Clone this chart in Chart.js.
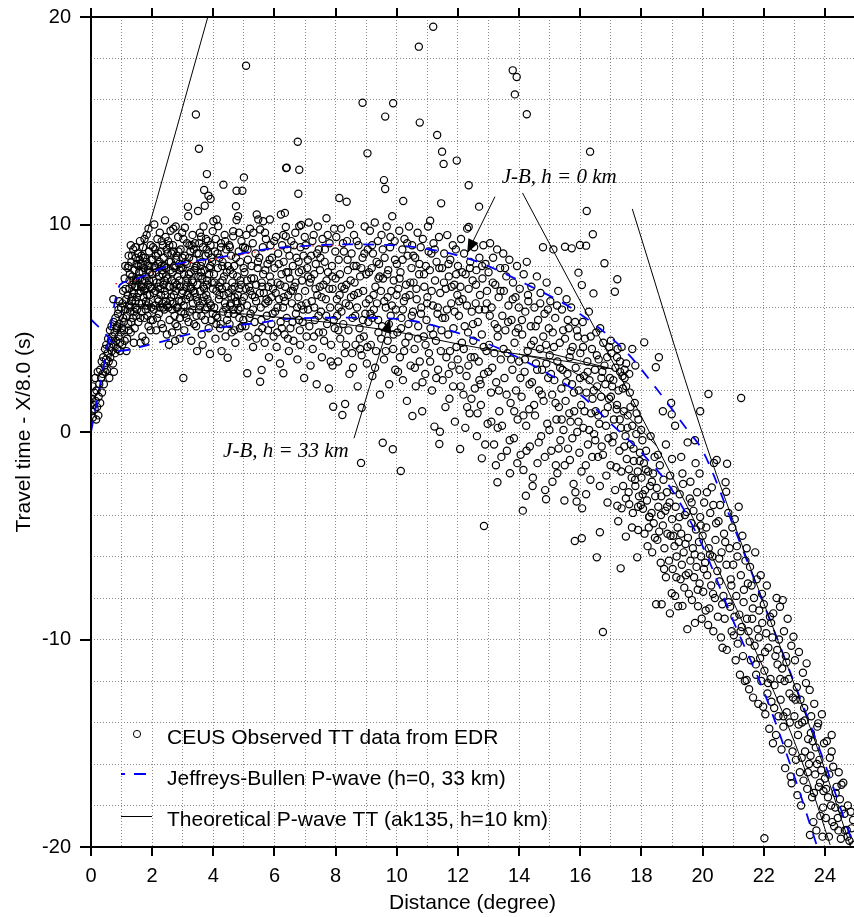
<!DOCTYPE html>
<html>
<head>
<meta charset="utf-8">
<script src="https://cdn.jsdelivr.net/npm/chart.js@4/dist/chart.umd.min.js"></script>
<style>
html,body{margin:0;padding:0;background:#fff;}
#wrap{width:854px;height:917px;}
</style>
</head>
<body>
<div id="wrap"><canvas id="c" width="854" height="917"></canvas></div>
<script>
// ---------------- data ----------------
const xTickLabels = [0,2,4,6,8,10,12,14,16,18,20,22,24];
const yTickLabels = [-20,-10,0,10,20];

// Observed travel-time residuals: [distance (deg), T - X/8.0 (s)]
const obsNear = [
[0.02,1.0],[0.03,1.6],[0.05,2.2],[0.06,0.7],[0.08,1.3],[0.1,1.9],[0.12,1.1],[0.14,2.6],[0.15,1.5],[0.17,0.6],[0.18,2.0],[0.2,1.2],[0.22,2.9],[0.24,0.8],[0.25,1.7],[0.27,2.3],[0.3,3.0],[0.3,1.4],[0.33,2.6],[0.35,3.4],[0.36,1.9],[0.38,2.8],[0.4,3.6],[0.42,2.3],[0.44,3.2],[0.46,4.0],[0.47,2.9],[0.49,3.5],
[0.5,4.2],[0.52,3.0],[0.54,3.8],[0.56,4.5],[0.58,3.4],[0.6,4.1],[0.62,4.9],[0.63,3.6],[0.65,4.4],[0.67,5.1],[0.68,3.9],[0.7,4.6],[0.72,3.3],[0.74,5.3],[0.75,4.2],[0.77,4.8],[0.79,3.8],[0.8,5.5],[0.82,4.4],[0.84,5.0],[0.86,4.0],[0.88,5.7],[0.9,4.6],[0.92,6.3],[0.93,5.2],[0.95,3.9],[0.97,4.8],[0.98,6.0],[0.6,2.6],[0.75,2.9],[0.73,6.4],
[1.02,4.2],[1.05,5.5],[1.05,6.8],[1.08,4.9],[1.1,7.4],[1.12,5.9],[1.15,6.4],[1.18,4.5],[1.2,7.9],[1.23,8.5],[1.22,5.2],[1.25,6.9],[1.27,7.6],[1.28,5.8],[1.3,4.8],[1.32,8.2],[1.33,6.3],[1.35,7.1],[1.37,5.5],[1.38,8.8],[1.4,6.7],[1.42,7.8],[1.43,5.0],[1.45,6.0],[1.47,8.4],[1.48,7.3],[1.5,6.5],[1.12,8.0],[1.3,9.0],[1.4,4.3],[1.16,3.9],[1.48,5.6],[1.25,6.1],[1.35,7.5],[1.45,8.9],[1.23,8.0],
[1.52,7.0],[1.53,8.6],[1.55,5.3],[1.57,6.2],[1.58,7.7],[1.6,9.2],[1.62,6.8],[1.63,8.1],[1.65,5.8],[1.67,7.3],[1.68,4.6],[1.7,8.9],[1.72,6.5],[1.73,7.9],[1.75,5.5],[1.77,8.4],[1.78,6.9],[1.8,7.5],[1.82,9.5],[1.83,6.1],[1.85,8.0],[1.87,7.1],[1.88,5.1],[1.9,8.7],[1.92,6.6],[1.93,7.7],[1.95,9.0],[1.97,6.0],[1.98,8.3],[1.6,7.4],[1.7,7.0],[1.8,6.3],[1.9,7.3],[1.55,8.0],[1.65,8.5],[1.75,9.3],[1.85,5.6],[1.95,4.9],[1.62,4.3],[1.78,4.4],[1.88,9.8]
];
const obsInner = [
[2.0,7.6],[2.02,5.4],[2.03,8.9],[2.05,6.7],[2.07,10.0],[2.08,7.9],[2.1,6.1],[2.12,8.5],[2.13,4.9],[2.15,7.2],[2.17,9.3],[2.18,6.4],[2.2,8.1],[2.22,5.7],[2.23,7.5],[2.25,9.6],[2.27,6.9],[2.28,8.7],[2.3,5.2],[2.32,7.8],[2.33,6.2],[2.35,9.0],[2.37,7.1],[2.38,8.4],[2.4,5.9],[2.42,10.2],[2.43,6.6],[2.45,7.9],[2.47,8.8],[2.48,4.7],[2.2,7.0],[2.3,8.0],[2.4,7.3],[2.1,8.0],[2.25,6.0],[2.45,6.3],[2.35,5.0],
[2.5,7.4],[2.52,9.2],[2.53,6.0],[2.55,8.2],[2.57,5.4],[2.58,7.0],[2.6,9.7],[2.62,6.5],[2.63,8.6],[2.65,4.8],[2.67,7.7],[2.68,9.0],[2.7,6.2],[2.72,8.0],[2.73,5.6],[2.75,7.2],[2.77,9.9],[2.78,6.8],[2.8,8.5],[2.82,5.1],[2.83,7.5],[2.85,9.4],[2.87,6.3],[2.88,8.1],[2.9,4.5],[2.92,7.0],[2.93,8.8],[2.95,5.8],[2.97,6.7],[2.98,9.6],[2.6,7.8],[2.7,7.0],[2.8,6.0],[2.9,7.8],[2.55,4.2],[2.75,4.4],[2.69,9.8],[3.02,2.6],
[3.0,7.9],[3.02,9.3],[3.03,6.1],[3.05,4.9],[3.07,8.5],[3.07,9.84],[3.1,7.0],[3.12,5.5],[3.13,8.1],[3.15,6.6],[3.17,10.85],[3.18,10.4],[3.2,7.6],[3.22,9.0],[3.23,5.8],[3.25,8.7],[3.27,6.9],[3.28,4.4],[3.3,7.3],[3.32,9.5],[3.33,6.2],[3.35,8.3],[3.37,5.2],[3.38,7.8],[3.4,9.1],[3.42,6.5],[3.43,15.3],[3.45,8.0],[3.47,3.9],[3.48,7.1],[3.5,10.65],[3.53,13.65],[3.15,7.4],[3.25,7.0],[3.35,6.8],[3.45,5.6],
[3.52,8.6],[3.53,5.9],[3.56,9.6],[3.57,6.8],[3.58,7.5],[3.6,9.41],[3.62,4.7],[3.63,8.2],[3.65,6.3],[3.67,7.0],[3.68,9.9],[3.7,11.66],[3.72,10.9],[3.73,5.4],[3.75,8.5],[3.77,6.6],[3.78,8.8],[3.79,12.43],[3.8,7.3],[3.82,9.2],[3.84,11.39],[3.85,5.0],[3.87,7.9],[3.89,3.76],[3.91,11.23],[3.92,6.1],[3.93,8.4],[3.95,7.2],[3.98,9.68],[3.98,5.7],[3.6,7.7],[3.7,6.9],[3.8,6.0],[3.9,8.0],[3.65,4.2]
];
const obsDenseNear = [
[0.85,5.1],[0.9,5.9],[0.95,4.3],[1.0,5.0],[1.03,6.2],[1.07,5.3],[1.1,4.4],[1.13,6.9],[1.17,5.6],[1.2,6.6],[1.24,4.9],[1.26,7.3],[1.29,6.0],[1.31,5.3],[1.34,8.5],[1.36,6.5],[1.39,7.3],[1.41,5.8],[1.44,7.0],[1.46,6.3],[1.49,8.1],[1.51,5.9],[1.54,7.4],[1.56,6.7],[1.59,8.3],[1.61,5.5],[1.64,7.0],[1.66,6.2],[1.69,7.7],[1.71,8.4],[1.74,6.8],[1.76,7.3],[1.79,5.9],[1.81,8.2],[1.84,6.6],[1.86,7.8],[1.89,6.2],[1.91,8.0],[1.94,7.0],[1.96,5.4],[1.99,6.9],
[2.01,8.3],[2.04,7.3],[2.06,5.9],[2.09,8.8],[2.11,6.8],[2.14,7.7],[2.16,5.5],[2.19,8.6],[2.21,6.3],[2.24,8.2],[2.26,7.2],[2.29,6.6],[2.31,9.2],[2.34,7.6],[2.36,6.0],[2.39,8.0],[2.41,6.8],[2.44,9.4],[2.46,7.5],[2.49,6.1],[2.51,8.6],[2.54,7.0],[2.56,9.0],[2.59,6.3],[2.61,8.2],[2.64,7.3],[2.66,5.9],[2.69,8.7],[2.71,6.6],[2.74,7.9],[2.76,5.2],[2.79,8.3],[2.81,7.1],[2.84,6.0],[2.86,8.7],[2.89,7.3],[2.91,5.5],[2.94,7.9],[2.96,6.3],[2.99,8.4],
[3.01,6.8],[3.04,7.6],[3.06,5.7],[3.09,8.2],[3.11,6.4],[3.14,9.1],[3.16,7.2],[3.19,5.3],[3.21,8.4],[3.24,6.5],[3.26,7.7],[3.29,9.0],[3.31,5.9],[3.34,7.2],[3.36,8.8],[3.39,6.7],[3.41,7.9],[3.44,5.1],[3.46,8.6],[3.49,6.3],[3.51,7.5],[3.54,9.1],[3.56,6.1],[3.59,8.0],[3.61,5.6],[3.64,7.4],[3.66,8.9],[3.69,6.5],[3.71,7.8],[3.74,5.9],[3.76,9.3],[3.79,7.1],[3.81,6.4],[3.84,8.6],[3.86,7.6],[3.89,6.2],[3.91,9.0],[3.94,5.4],[3.96,8.2],[3.99,6.9]
];
const obsMid1 = [
[4.0,10.16],[4.02,7.6],[4.03,6.0],[4.05,8.7],[4.07,4.5],[4.08,9.3],[4.1,6.8],[4.11,10.24],[4.13,5.5],[4.15,7.9],[4.16,9.92],[4.18,6.4],[4.2,8.4],[4.22,5.0],[4.23,7.2],[4.25,9.1],[4.27,3.9],[4.28,6.9],[4.3,8.2],[4.32,5.8],[4.33,11.92],[4.35,7.5],[4.37,9.5],[4.38,6.2],[4.4,4.6],[4.42,8.8],[4.43,7.0],[4.45,5.4],[4.47,3.58],[4.48,8.0],[4.2,6.6],[4.3,7.3],[4.4,6.0],[4.1,5.2],[4.25,8.9],
[4.5,6.7],[4.52,9.0],[4.53,5.2],[4.55,7.8],[4.57,6.2],[4.58,8.5],[4.6,4.8],[4.62,7.2],[4.65,9.68],[4.65,9.43],[4.67,5.7],[4.68,8.0],[4.7,6.5],[4.72,4.3],[4.74,10.88],[4.76,10.22],[4.76,11.63],[4.78,7.5],[4.81,10.4],[4.82,5.9],[4.83,8.7],[4.85,6.9],[4.87,5.0],[4.88,8.2],[4.9,7.1],[4.92,9.2],[4.94,6.3],[4.95,11.63],[4.97,8.9],[4.98,5.4],[4.6,6.9],[4.7,7.0],[4.8,6.6],[4.9,6.0],[4.55,6.1],[4.75,6.3],[4.85,5.5],[4.65,5.9],
[5.0,12.27],[5.04,8.88],[5.07,17.65],[5.0,6.5],[5.02,7.7],[5.05,5.1],[5.08,9.5],[5.1,6.1],[5.11,2.83],[5.13,8.3],[5.15,4.6],[5.17,7.0],[5.2,9.8],[5.22,5.7],[5.25,8.0],[5.27,6.6],[5.3,4.1],[5.31,9.6],[5.33,7.4],[5.35,5.3],[5.38,8.6],[5.4,6.3],[5.42,10.48],[5.45,7.9],[5.47,10.24],[5.48,4.8],[5.1,7.3],[5.2,6.8],[5.3,5.9],[5.4,7.1],
[5.5,8.4],[5.53,2.42],[5.53,9.76],[5.55,6.0],[5.58,2.99],[5.58,7.2],[5.6,5.0],[5.62,8.9],[5.63,10.16],[5.65,6.7],[5.68,4.3],[5.7,7.8],[5.72,9.3],[5.75,5.6],[5.77,8.1],[5.8,6.3],[5.82,3.6],[5.85,10.24],[5.85,7.5],[5.87,9.0],[5.9,5.2],[5.92,8.4],[5.95,6.9],[5.97,4.6],[5.6,7.0],[5.7,6.2],[5.8,7.0],[5.9,6.5],
[6.0,7.9],[6.02,5.8],[6.05,9.4],[6.07,4.1],[6.1,7.2],[6.12,8.6],[6.15,6.4],[6.18,3.3],[6.2,5.3],[6.21,10.48],[6.23,7.6],[6.25,9.0],[6.28,6.0],[6.29,2.83],[6.3,8.2],[6.33,4.7],[6.34,10.56],[6.35,7.0],[6.37,9.88],[6.37,9.43],[6.38,12.72],[6.4,5.5],[6.42,8.8],[6.45,6.6],[6.47,3.9],[6.1,6.0],[6.3,6.5],[6.45,7.7],
[6.5,7.4],[6.52,5.0],[6.55,9.2],[6.57,6.2],[6.6,8.0],[6.62,4.4],[6.65,7.0],[6.68,9.6],[6.7,5.7],[6.72,8.4],[6.75,3.5],[6.76,13.99],[6.78,11.48],[6.78,6.5],[6.8,7.7],[6.81,12.64],[6.81,9.92],[6.83,4.9],[6.85,8.9],[6.87,9.98],[6.88,6.1],[6.9,7.3],[6.92,5.3],[6.95,8.5],[6.97,2.6],[6.6,6.8],[6.8,5.4],[6.4,12.74],
[7.0,6.8],[7.02,9.0],[7.05,4.6],[7.07,7.9],[7.1,5.9],[7.12,10.1],[7.15,7.2],[7.18,3.2],[7.2,8.5],[7.22,6.3],[7.25,4.0],[7.28,9.5],[7.3,7.6],[7.32,5.4],[7.35,8.1],[7.38,2.3],[7.4,6.6],[7.42,9.9],[7.45,4.8],[7.48,7.0],[7.1,7.5],[7.3,6.0],[7.45,8.8],
[7.5,8.4],[7.52,5.8],[7.55,3.6],[7.57,9.3],[7.6,7.1],[7.62,4.4],[7.65,8.8],[7.68,6.4],[7.7,10.3],[7.72,5.2],[7.75,7.7],[7.78,2.1],[7.8,9.1],[7.82,6.0],[7.85,4.2],[7.88,8.0],[7.9,6.9],[7.92,1.22],[7.95,9.8],[7.97,5.0],[7.7,7.3],[7.9,3.2]
];
const obsMid2 = [
[8.0,7.4],[8.02,9.4],[8.05,5.6],[8.08,3.4],[8.1,8.3],[8.12,11.28],[8.13,6.6],[8.15,4.5],[8.18,9.8],[8.2,7.0],[8.22,0.82],[8.25,5.2],[8.27,8.7],[8.3,3.8],[8.31,1.35],[8.33,6.2],[8.36,11.1],[8.37,9.2],[8.4,7.8],[8.42,4.9],[8.45,2.8],[8.47,10.0],[8.1,6.0],[8.35,7.1],
[8.5,6.5],[8.52,8.6],[8.55,5.5],[8.57,3.1],[8.6,9.5],[8.62,7.2],[8.65,4.2],[8.68,8.0],[8.7,6.0],[8.72,2.2],[8.75,9.0],[8.78,5.0],[8.8,7.5],[8.83,-1.49],[8.85,1.17],[8.85,3.7],[8.88,15.87],[8.88,8.4],[8.9,6.8],[8.92,4.6],[8.95,9.9],[8.97,5.7],[8.6,6.6],[8.8,4.0],
[9.0,7.6],[9.02,3.3],[9.04,13.43],[9.05,8.8],[9.07,5.3],[9.1,6.4],[9.12,9.7],[9.15,4.2],[9.18,7.9],[9.2,2.7],[9.22,8.6],[9.25,5.9],[9.28,10.1],[9.3,7.0],[9.32,3.9],[9.35,6.2],[9.38,9.2],[9.4,4.8],[9.42,8.1],[9.45,1.8],[9.48,6.8],[9.2,5.5],[9.4,7.4],
[9.5,9.5],[9.52,5.1],[9.54,-0.52],[9.55,7.4],[9.58,12.14],[9.58,3.5],[9.6,8.4],[9.62,11.71],[9.62,15.2],[9.64,6.0],[9.67,9.9],[9.7,4.4],[9.72,7.8],[9.75,2.3],[9.78,8.9],[9.8,5.6],[9.82,6.8],[9.85,10.4],[9.87,-0.83],[9.88,15.84],[9.88,4.0],[9.9,7.3],[9.93,9.2],[9.95,3.0],[9.97,5.9],[9.7,6.5],
[10.0,8.1],[10.02,4.8],[10.05,6.9],[10.08,9.7],[10.1,3.6],[10.13,-1.88],[10.12,7.7],[10.15,5.5],[10.18,8.8],[10.2,2.5],[10.21,11.13],[10.23,6.3],[10.25,9.3],[10.28,4.3],[10.3,7.1],[10.33,1.5],[10.35,8.5],[10.38,5.2],[10.4,9.9],[10.42,6.6],[10.45,3.2],[10.48,7.9],[10.2,5.9],
[10.51,0.77],[10.5,9.0],[10.53,5.8],[10.55,7.2],[10.58,4.0],[10.6,8.4],[10.62,2.2],[10.65,6.4],[10.68,9.6],[10.7,5.1],[10.72,18.57],[10.73,7.6],[10.75,14.91],[10.75,3.4],[10.78,8.9],[10.8,6.0],[10.83,1.0],[10.85,9.3],[10.88,4.6],[10.9,7.0],[10.93,2.8],[10.95,8.0],[10.97,5.4],
[11.0,6.5],[11.02,9.9],[11.05,3.8],[11.08,7.8],[11.09,10.18],[11.1,5.0],[11.13,8.6],[11.15,2.0],[11.18,6.1],[11.19,19.53],[11.2,9.1],[11.23,0.26],[11.25,7.3],[11.28,4.4],[11.3,8.2],[11.32,14.31],[11.33,5.7],[11.35,3.0],[11.38,9.4],[11.39,-0.58],[11.41,0.01],[11.42,6.7],[11.45,11.02],[11.46,4.9],[11.48,13.51],[11.48,7.9],
[11.5,2.5],[11.53,12.92],[11.55,8.6],[11.58,5.5],[11.6,6.9],[11.62,3.6],[11.65,9.49],[11.68,4.7],[11.7,7.5],[11.72,1.6],[11.75,8.3],[11.78,6.2],[11.8,3.2],[11.83,9.0],[11.85,5.0],[11.88,7.1],[11.9,0.5],[11.93,8.8],[11.95,4.1],[11.96,13.08],[11.98,6.6],[11.7,2.8]
];
const obsDenseMid = [
[4.04,7.2],[4.09,5.6],[4.14,8.6],[4.19,7.0],[4.24,5.2],[4.29,8.0],[4.34,6.6],[4.39,9.2],[4.44,7.7],[4.49,5.7],[4.54,8.9],[4.59,6.5],[4.64,7.6],[4.69,4.9],[4.74,8.4],[4.79,6.2],[4.84,9.6],[4.89,7.3],[4.94,5.1],[4.99,7.9],
[5.06,6.9],[5.12,8.8],[5.18,5.5],[5.24,7.4],[5.29,9.1],[5.36,6.5],[5.41,4.5],[5.46,8.2],[5.52,6.7],[5.57,5.4],[5.63,7.6],[5.69,9.6],[5.74,6.4],[5.79,4.9],[5.84,8.3],[5.89,7.2],[5.94,5.7],[5.99,9.2],
[6.04,6.7],[6.09,4.8],[6.14,8.1],[6.19,7.1],[6.24,5.0],[6.29,9.5],[6.34,6.3],[6.39,7.7],[6.44,4.5],[6.49,8.5],[6.54,6.8],[6.59,5.3],[6.64,9.0],[6.69,7.2],[6.74,6.0],[6.79,8.2],[6.84,4.2],[6.89,7.8],[6.94,5.9],[6.99,9.4],
[7.04,6.2],[7.09,8.3],[7.14,5.1],[7.19,7.4],[7.24,9.2],[7.29,4.6],[7.34,6.9],[7.39,8.6],[7.44,5.6],[7.49,7.8],[7.54,6.5],[7.59,4.8],[7.64,8.2],[7.69,5.6],[7.74,9.5],[7.79,6.9],[7.84,3.4],[7.89,7.5],[7.94,5.4],[7.99,8.7],
[8.04,6.4],[8.09,4.9],[8.14,7.6],[8.19,5.8],[8.24,9.1],[8.29,6.9],[8.34,4.2],[8.39,8.3],[8.44,6.1],[8.49,7.3],[8.54,3.8],[8.59,8.0],[8.64,5.6],[8.69,9.2],[8.74,6.7],[8.79,4.5],[8.84,7.9],[8.89,5.4],[8.94,8.6],[8.99,6.2],
[9.04,4.1],[9.09,7.7],[9.14,5.7],[9.19,9.0],[9.24,6.6],[9.29,3.1],[9.34,8.2],[9.39,5.4],[9.44,7.5],[9.49,4.5],[9.54,8.8],[9.59,6.3],[9.64,3.9],[9.69,7.6],[9.74,5.2],[9.79,9.4],[9.84,6.1],[9.89,4.7],[9.94,8.3],[9.99,6.6],
[10.04,2.9],[10.09,7.4],[10.14,5.0],[10.19,8.3],[10.24,3.9],[10.29,6.5],[10.34,9.1],[10.39,4.6],[10.44,7.2],[10.49,5.6],[10.54,8.5],[10.59,3.1],[10.64,6.9],[10.69,4.5],[10.74,8.1],[10.79,5.7],[10.84,2.4],[10.89,7.6],[10.94,4.2],[10.99,6.2],
[11.04,8.7],[11.09,3.4],[11.14,6.8],[11.19,4.7],[11.24,8.8],[11.29,2.6],[11.34,6.0],[11.39,7.9],[11.44,3.9],[11.49,5.5],[11.54,7.2],[11.59,1.2],[11.64,5.9],[11.69,8.1],[11.74,3.9],[11.79,7.0],[11.84,2.2],[11.89,5.8],[11.94,7.6],[11.99,3.5]
];
const obsFar = [
[12.0,8.0],[12.03,5.6],[12.05,3.0],[12.07,-0.82],[12.08,7.0],[12.1,9.3],[12.13,4.3],[12.15,6.4],[12.18,1.8],[12.2,8.6],[12.22,5.1],[12.25,7.6],[12.28,2.7],[12.3,9.8],[12.33,4.8],[12.35,11.89],[12.35,9.88],[12.35,6.9],[12.38,0.9],[12.4,8.2],[12.42,3.6],[12.45,5.8],[12.48,7.3],[12.3,1.2],
[12.5,4.4],[12.53,8.9],[12.55,2.1],[12.58,6.2],[12.6,7.8],[12.62,-0.2],[12.65,5.3],[12.69,10.86],[12.68,3.4],[12.7,8.4],[12.72,6.6],[12.75,1.3],[12.78,-1.27],[12.78,4.7],[12.8,7.4],[12.83,9.0],[12.85,-4.53],[12.85,2.8],[12.88,5.9],[12.9,8.1],[12.93,3.9],[12.95,6.8],[12.97,0.4],[12.7,2.5],
[13.0,7.7],[13.02,4.2],[13.05,9.1],[13.08,1.9],[13.1,6.0],[13.12,3.1],[13.15,8.4],[13.18,-0.6],[13.2,5.2],[13.22,7.1],[13.25,2.4],[13.28,8.8],[13.29,-2.42],[13.3,4.6],[13.33,6.5],[13.35,1.0],[13.38,7.9],[13.4,3.5],[13.42,-1.2],[13.45,5.6],[13.48,8.6],[13.3,0.2],
[13.5,6.8],[13.52,2.6],[13.55,4.9],[13.58,7.5],[13.6,-0.9],[13.62,3.8],[13.65,6.1],[13.68,8.3],[13.7,-1.99],[13.72,1.4],[13.75,5.4],[13.78,3.0],[13.79,17.43],[13.8,7.2],[13.83,-0.3],[13.85,4.3],[13.86,16.27],[13.88,6.5],[13.9,2.0],[13.92,17.11],[13.93,8.0],[13.95,0.6],[13.97,5.0],
[14.0,3.4],[14.02,6.9],[14.05,-1.1],[14.08,1.7],[14.1,4.7],[14.12,-3.79],[14.14,-1.83],[14.15,7.6],[14.18,2.9],[14.2,5.8],[14.22,-3.07],[14.23,0.3],[14.25,15.31],[14.25,8.2],[14.28,3.9],[14.3,6.3],[14.33,1.1],[14.35,-0.7],[14.38,5.1],[14.4,7.0],[14.42,2.4],[14.45,-2.2],[14.48,4.4],
[14.5,6.0],[14.52,0.8],[14.55,3.3],[14.58,7.5],[14.6,-1.5],[14.62,5.4],[14.65,2.0],[14.68,4.0],[14.7,6.7],[14.72,-0.2],[14.75,3.0],[14.78,8.9],[14.8,1.5],[14.83,5.7],[14.85,-2.8],[14.88,-3.24],[14.88,4.2],[14.9,7.2],[14.92,0.4],[14.95,2.6],[14.97,5.0],
[15.0,3.7],[15.02,6.3],[15.05,-0.9],[15.08,1.8],[15.1,4.8],[15.12,8.8],[15.15,2.5],[15.18,5.5],[15.2,-1.6],[15.22,0.6],[15.25,-1.99],[15.25,3.4],[15.28,6.8],[15.3,1.2],[15.33,4.3],[15.35,-0.4],[15.38,2.1],[15.4,5.9],[15.42,3.0],[15.45,0.1],[15.48,-3.3],[15.5,8.93],
[15.5,4.5],[15.52,1.5],[15.55,6.4],[15.58,2.8],[15.6,-0.8],[15.62,5.0],[15.65,3.6],[15.66,-1.35],[15.68,0.5],[15.7,6.0],[15.72,8.85],[15.73,2.3],[15.75,4.1],[15.78,-2.5],[15.8,1.0],[15.82,-5.25],[15.83,5.3],[15.85,3.1],[15.88,-3.35],[15.9,0.0],[15.92,4.6],[15.94,7.68],[15.95,2.0],[15.97,-1.0],[15.99,9.01]
];
const obsDenseFar = [
[12.04,6.3],[12.09,2.2],[12.14,7.7],[12.19,4.0],[12.24,0.2],[12.29,6.1],[12.34,3.2],[12.39,7.9],[12.44,1.6],[12.49,5.2],[12.54,3.6],[12.59,7.1],[12.64,0.9],[12.69,5.9],[12.74,2.3],[12.79,8.0],[12.84,4.1],[12.89,-0.6],[12.94,6.2],[12.99,2.9],
[13.04,5.6],[13.09,0.5],[13.14,7.2],[13.19,3.8],[13.24,-1.6],[13.29,5.0],[13.34,2.0],[13.39,6.8],[13.44,0.3],[13.49,4.0],[13.54,7.9],[13.59,1.8],[13.64,5.3],[13.69,-0.4],[13.74,3.5],[13.79,6.4],[13.84,1.0],[13.89,4.8],[13.94,-1.5],[13.99,6.0],
[14.04,2.6],[14.09,5.4],[14.14,0.8],[14.19,3.5],[14.24,-0.9],[14.29,6.6],[14.34,2.3],[14.39,4.2],[14.44,-2.6],[14.49,1.3],[14.54,5.1],[14.59,3.0],[14.64,-0.5],[14.69,6.2],[14.74,1.8],[14.79,4.6],[14.84,-1.2],[14.89,3.3],[14.94,5.9],[14.99,0.1],
[15.04,2.8],[15.09,-2.4],[15.14,4.1],[15.19,1.4],[15.24,6.1],[15.29,-0.8],[15.34,3.1],[15.39,0.6],[15.44,4.9],[15.49,-1.6],[15.54,2.4],[15.59,5.4],[15.64,0.9],[15.69,3.9],[15.74,-0.3],[15.79,1.9],[15.84,-2.9],[15.89,4.9],[15.94,0.5],[15.99,2.6],
[16.04,-1.9],[16.09,4.1],[16.14,1.0],[16.19,-3.0],[16.24,2.9],[16.29,0.1],[16.34,4.6],[16.39,-1.2],[16.44,2.0],[16.49,-0.4],[16.54,3.7],[16.59,0.8],[16.64,-2.6],[16.69,2.6],[16.74,-1.1],[16.79,3.2],[16.84,0.3],[16.89,-3.4],[16.94,1.6],[16.99,-1.6],
[17.04,2.2],[17.09,-0.2],[17.14,-2.8],[17.19,1.1],[17.24,-4.3],[17.29,0.6],[17.34,-1.9],[17.39,2.1],[17.44,-0.7],[17.49,-3.2],[17.54,0.2],[17.59,-1.8],[17.64,1.2],[17.69,-4.6],[17.74,-0.8],[17.79,-2.3],[17.84,0.9],[17.89,-3.6],[17.94,-1.4],[17.99,0.1]
];
const obsCusp = [
[16.0,3.8],[16.03,1.3],[16.05,-5.12],[16.05,7.08],[16.06,-3.68],[16.08,5.3],[16.1,0.2],[16.12,2.7],[16.15,4.5],[16.18,-1.6],[16.19,8.98],[16.21,10.65],[16.2,1.9],[16.23,3.4],[16.25,-0.6],[16.28,5.8],[16.3,2.5],[16.32,13.51],[16.33,-2.3],[16.35,0.9],[16.38,4.0],[16.4,1.6],[16.41,9.53],[16.43,6.68],[16.45,-0.1],[16.48,3.0],
[16.5,1.0],[16.54,-6.04],[16.52,4.8],[16.55,2.2],[16.58,-1.2],[16.6,3.5],[16.62,0.4],[16.64,-4.83],[16.65,5.0],[16.68,1.7],[16.7,-0.7],[16.72,2.9],[16.75,4.3],[16.74,-9.64],[16.79,8.13],[16.8,0.9],[16.82,2.3],[16.85,-2.1],[16.88,3.6],[16.9,1.2],[16.92,-0.3],[16.95,4.1],[16.97,2.6],
[17.0,1.7],[17.02,3.8],[17.05,-0.5],[17.08,2.5],[17.1,0.6],[17.13,6.76],[17.15,3.1],[17.18,-1.7],[17.2,1.3],[17.21,7.36],[17.21,-3.55],[17.22,4.0],[17.25,2.0],[17.28,-0.9],[17.3,3.4],[17.32,-6.57],[17.33,0.2],[17.35,-3.68],[17.38,2.7],[17.4,-2.6],[17.42,1.0],[17.45,3.0],[17.48,-0.2],[17.49,-5.04],
[17.0,4.4],[17.2,3.6],[17.35,4.1],[17.5,3.3],[17.6,2.8],[17.7,4.0],[17.45,2.6],[17.8,3.2],[17.3,2.9],
[17.5,2.2],[17.52,-1.3],[17.55,0.8],[17.58,-2.9],[17.6,-3.48],[17.62,1.9],[17.65,-0.6],[17.68,-2.2],[17.7,0.3],[17.72,-3.9],[17.75,-1.4],[17.78,1.4],[17.8,-2.6],[17.83,-0.1],[17.86,-6.04],[17.89,-4.72],[17.88,-1.9],[17.9,0.6],[17.92,-3.1],[17.95,-1.0],[17.98,-3.52],
[18.0,-2.2],[18.03,-0.4],[18.05,-3.7],[18.08,-1.5],[18.09,4.32],[18.1,-4.9],[18.12,-2.8],[18.15,-0.9],[18.18,-3.3],[18.2,-5.5],[18.22,-1.9],[18.25,-4.1],[18.26,-4.08],[18.28,-2.6],[18.3,-0.2],[18.33,-3.9],[18.35,-5.8],[18.38,-2.0],[18.4,-4.4],[18.43,-1.2],[18.45,-3.1],[18.47,3.12],[18.48,-8.3],
[18.5,-2.7],[18.52,-5.2],[18.55,-3.6],[18.57,3.6],[18.58,-4.8],[18.6,-1.6],[18.63,-6.3],[18.65,-3.1],[18.66,-8.3],[18.7,-4.5],[18.72,-2.3],[18.75,-5.6],[18.78,-3.8],[18.8,-7.0],[18.83,-2.9],[18.85,-4.9],[18.93,-8.74],[18.9,-6.2],[18.92,-3.4],[18.95,-5.0],[18.99,-7.77],
[18.97,1.4],[18.99,0.85],[18.7,1.0],[18.8,-0.6],[19.0,-1.3],[19.1,0.3],[19.3,-1.2]
];
const obsTail = [
[19.0,-4.2],[19.02,-6.6],[19.05,-2.8],[19.08,-5.5],[19.1,-7.9],[19.12,-3.6],[19.15,-6.0],[19.18,-4.6],[19.2,-8.4],[19.22,-5.3],[19.25,-3.0],[19.28,-7.1],[19.3,-4.9],[19.32,-6.4],[19.34,-8.38],[19.36,-2.5],[19.38,-5.8],[19.4,-7.5],[19.42,-4.0],[19.45,-6.9],[19.48,-3.86],[19.5,-9.5],
[19.51,-0.5],[19.75,-0.4],[19.77,-1.5],[19.92,1.0],[20.19,1.83],[21.26,1.64],[19.6,-2.4],[19.9,-2.0],
[19.52,-5.1],[19.55,-7.8],[19.58,-3.2],[19.6,-6.2],[19.63,-4.4],[19.65,-8.1],[19.68,-5.6],[19.7,-3.8],[19.72,-7.0],[19.75,-9.2],[19.78,-4.7],[19.8,-6.5],[19.82,-2.9],[19.85,-8.4],[19.88,-5.3],[19.9,-7.3],[19.92,-4.1],[19.95,-6.0],[19.97,-9.0],
[20.0,-5.0],[20.02,-7.7],[20.05,-3.4],[20.08,-6.3],[20.1,-8.6],[20.12,-4.6],[20.15,-6.9],[20.18,-9.3],[20.2,-5.6],[20.22,-8.5],[20.25,-3.9],[20.28,-7.4],[20.3,-2.67],[20.32,-6.0],[20.35,-3.52],[20.35,-9.6],[20.37,-1.49],[20.4,-8.0],[20.42,-5.2],[20.46,-1.35],[20.48,-6.7],
[20.5,-8.9],[20.52,-4.3],[20.55,-7.2],[20.57,-3.52],[20.6,-9.9],[20.62,-5.8],[20.65,-10.4],[20.68,-7.9],[20.7,-4.9],[20.72,-9.0],[20.75,-2.42],[20.77,-2.88],[20.78,-6.4],[20.8,-1.53],[20.79,-10.5],[20.85,-8.2],[20.88,-5.6],[20.9,-8.42],[20.92,-7.1],[20.95,-9.6],[20.97,-4.6],
[21.0,-6.4],[21.02,-9.8],[21.05,-4.2],[21.08,-11.0],[21.1,-7.9],[21.12,-5.5],[21.15,-10.2],[21.18,-3.6],[21.2,-8.8],[21.22,-11.7],[21.25,-6.9],[21.28,-9.4],[21.3,-5.0],[21.32,-10.8],[21.35,-7.6],[21.38,-12.0],[21.4,-6.2],[21.44,-11.95],[21.45,-9.0],[21.48,-7.3],
[21.5,-9.6],[21.52,-12.4],[21.55,-6.5],[21.58,-11.0],[21.6,-7.4],[21.62,-9.0],[21.65,-12.8],[21.68,-8.0],[21.7,-10.3],[21.72,-5.8],[21.75,-11.7],[21.77,-7.1],[21.8,-9.5],[21.82,-13.1],[21.85,-8.6],[21.88,-10.9],[21.9,-6.9],[21.92,-12.0],[21.95,-9.2],[21.98,-13.24],[22.02,-19.58],
[22.0,-8.3],[22.02,-11.5],[22.05,-13.6],[22.08,-9.7],[22.1,-7.4],[22.12,-12.6],[22.15,-10.4],[22.18,-14.3],[22.2,-8.9],[22.22,-11.9],[22.25,-13.0],[22.28,-9.9],[22.3,-15.0],[22.31,-8.74],[22.35,-12.2],[22.38,-10.8],[22.4,-14.6],[22.42,-8.0],[22.45,-11.2],[22.48,-13.7],
[22.5,-10.0],[22.53,-8.42],[22.55,-12.9],[22.58,-15.3],[22.6,-11.4],[22.62,-8.1],[22.64,-14.2],[22.66,-9.6],[22.68,-12.0],[22.7,-16.2],[22.72,-10.8],[22.75,-13.5],[22.78,-9.0],[22.8,-15.0],[22.82,-11.9],[22.85,-14.0],[22.88,-16.6],[22.9,-10.3],[22.91,-16.93],[22.95,-12.8],[22.97,-9.87],
[23.0,-13.7],[23.02,-11.0],[23.05,-15.8],[23.08,-12.3],[23.1,-17.5],[23.12,-14.6],[23.15,-10.6],[23.18,-16.4],[23.2,-12.9],[23.22,-18.0],[23.25,-14.0],[23.28,-11.6],[23.3,-16.8],[23.32,-13.3],[23.35,-15.4],[23.38,-12.1],[23.4,-11.15],[23.42,-17.2],[23.45,-14.8],[23.48,-16.0],
[23.5,-12.43],[23.51,-19.42],[23.53,-15.6],[23.55,-13.7],[23.58,-17.6],[23.6,-14.9],[23.62,-18.8],[23.65,-13.1],[23.68,-16.5],[23.7,-15.2],[23.72,-19.2],[23.75,-14.2],[23.78,-14.04],[23.8,-17.1],[23.82,-15.8],[23.85,-18.5],[23.88,-16.3],[23.9,-13.6],[23.92,-19.5],[23.95,-17.3],[23.97,-15.0],
[24.0,-16.7],[24.03,-18.6],[24.06,-14.9],[24.1,-17.6],[24.13,-19.5],[24.16,-15.7],[24.2,-18.0],[24.22,-14.6],[24.22,-15.4],[24.27,-16.13],[24.3,-19.0],[24.35,-17.4],[24.38,-17.1],[24.42,-18.6],[24.45,-16.4],[24.49,-17.7],[24.52,-19.6],[24.56,-18.2],[24.6,-16.9],[24.65,-19.2],[24.71,-19.18],[24.75,-18.0],[24.8,-19.7],[24.87,-19.1],[24.92,-18.7]
];
const obsDenseTail = [
[18.04,-3.0],[18.14,-1.8],[18.24,-4.6],[18.34,-2.4],[18.44,-5.1],[18.54,-1.1],[18.64,-4.0],[18.74,-6.6],[18.84,-3.6],[18.94,-2.1],[19.04,-5.0],[19.14,-7.0],[19.24,-4.1],[19.34,-2.0],[19.44,-5.4],[19.54,-6.8],[19.64,-3.4],[19.74,-5.9],[19.84,-7.6],[19.94,-4.5],
[20.04,-6.6],[20.14,-2.9],[20.24,-5.9],[20.34,-7.8],[20.44,-4.4],[20.54,-6.1],[20.64,-8.3],[20.74,-5.3],[20.84,-3.9],[20.94,-7.4],[21.04,-8.9],[21.14,-6.0],[21.24,-9.6],[21.34,-8.2],[21.44,-5.6],[21.54,-10.1],[21.64,-8.5],[21.74,-11.2],[21.84,-9.9],[21.94,-7.8],
[22.04,-10.6],[22.14,-12.1],[22.24,-9.2],[22.34,-13.3],[22.44,-10.5],[22.54,-11.9],[22.64,-13.7],[22.74,-11.1],[22.84,-12.6],[22.94,-15.4],[23.04,-12.9],[23.14,-14.1],[23.24,-15.7],[23.34,-13.9],[23.44,-16.4],[23.54,-14.5],[23.64,-17.4],[23.74,-16.0],[23.84,-16.9],[23.94,-18.1],
[24.04,-17.2],[24.14,-16.5],[24.24,-18.8],[24.34,-18.1],[24.44,-19.2],[24.54,-17.0],[24.64,-18.4],[24.74,-19.5],[24.84,-18.3],[24.94,-19.9]
];

// Jeffreys-Bullen P-wave curves (blue dashed)
const jbH0 = [[0,0],[0.46,3.5],[0.95,7.1],[1.22,7.27],[2.53,8.0],[4.16,8.4],[5.69,8.8],[6.18,8.88],[8.36,9.04],[10.0,8.99],[11.63,8.64],[12.72,8.16],[14.36,7.03],[15.77,5.91],[17.52,3.83],[18.5,2.07],[19.48,0.14],[20.0,-0.9],[21.0,-4.5],[22.0,-8.3],[23.0,-12.1],[24.0,-16.0],[24.95,-20.0]];
const jbH33 = [[0,5.43],[0.62,4.47],[0.89,3.91],[1.98,4.23],[3.4,4.79],[4.6,5.11],[5.69,5.3],[6.18,5.43],[8.36,5.51],[10.54,5.35],[11.96,4.79],[13.27,4.07],[14.68,3.03],[16.0,1.8],[17.0,0.4],[18.0,-1.0],[19.0,-2.8],[20.0,-5.5],[21.0,-9.1],[22.0,-12.5],[23.0,-16.6],[23.75,-20.0]];
const jbRedDots = [[0.8,7.15],[1.2,7.2],[2.5,7.95],[4.2,8.35],[5.7,8.75],[7.0,8.95],[8.3,9.0]];

// Theoretical ak135 (h=10 km) branches (black solid)
const akPg = [[0,1.3],[0.45,2.6],[0.89,4.8],[2.15,11.2],[3.82,20]];
const akPn = [[0.7,6.25],[3,5.95],[6,5.55],[9.5,4.95],[12.7,4.05],[16,3.3],[17.08,3.03]];
const akPnBack = [[14.14,4.1],[17.08,3.03]];
const akPnBend = [[14.0,3.75],[15.0,3.4],[16.0,2.7],[16.7,1.9],[17.4,0.95],[18.0,0.1],[18.5,-0.68]];
const akBranchA = [[14.11,11.52],[18.5,-0.68],[19.5,-3.6],[20.5,-6.6],[21.5,-9.8],[22.5,-13.1],[23.5,-16.9],[24.17,-19.9]];
const akBranchC = [[17.7,10.75],[20.0,-0.1],[21.2,-5.1],[22.5,-10.2],[23.7,-15.0],[24.82,-19.9]];

// annotations
const annH0 = {text:'J-B, h = 0 km', x:13.43, y:12.0, from:[13.21,11.34], to:[12.3,8.62]};
const annH33 = {text:'J-B, h = 33 km', x:4.32, y:-1.2, from:[8.6,-0.3], to:[9.78,5.45]};
const legendItems = ['CEUS Observed TT data from EDR','Jeffreys-Bullen P-wave (h=0, 33 km)','Theoretical P-wave TT (ak135, h=10 km)'];

// ---------------- chart ----------------
const toXY = a => a.map(p => ({x:p[0], y:p[1]}));
const obsAll = toXY([].concat(obsNear, obsInner, obsDenseNear, obsMid1, obsMid2, obsDenseMid, obsFar, obsDenseFar, obsCusp, obsTail, obsDenseTail));

Chart.defaults.font.family = '"Liberation Sans", Arial, Helvetica, sans-serif';
Chart.defaults.color = '#000';

function lineDs(data, color, width, dash, order, smooth){
  return {data: toXY(data), showLine:true, borderColor:color, backgroundColor:color, borderWidth:width,
    borderDash:dash, pointRadius:0, pointHoverRadius:0, fill:false, order:order,
    cubicInterpolationMode: smooth ? 'monotone' : 'default', tension:0};
}

function drawArrow(ctx, x0, y0, x1, y1, len, half){
  ctx.beginPath(); ctx.moveTo(x0,y0); ctx.lineTo(x1,y1); ctx.stroke();
  const ang = Math.atan2(y1-y0, x1-x0);
  const bx = x1 - len*Math.cos(ang), by = y1 - len*Math.sin(ang);
  ctx.beginPath();
  ctx.moveTo(x1,y1);
  ctx.lineTo(bx + half*Math.sin(ang), by - half*Math.cos(ang));
  ctx.lineTo(bx - half*Math.sin(ang), by + half*Math.cos(ang));
  ctx.closePath(); ctx.fill();
}

function zeroPad(s){ s.paddingLeft = 0; s.paddingRight = 0; s.paddingTop = 0; s.paddingBottom = 0; }

const overlay = {
  id:'overlay',
  afterDatasetsDraw(chart){
    const {ctx, chartArea:a, scales:{x, y}} = chart;
    ctx.save();
    ctx.strokeStyle = '#000'; ctx.fillStyle = '#000';
    // frame
    ctx.lineWidth = 2;
    ctx.beginPath();
    ctx.moveTo(a.left, a.top); ctx.lineTo(a.right, a.top);
    ctx.moveTo(a.left, a.top - 1); ctx.lineTo(a.left, a.bottom + 1);
    ctx.moveTo(a.left - 1, a.bottom); ctx.lineTo(a.right, a.bottom);
    ctx.stroke();
    // major ticks
    ctx.beginPath();
    xTickLabels.forEach(v => {
      const px = Math.round(x.getPixelForValue(v));
      ctx.moveTo(px, a.bottom); ctx.lineTo(px, a.bottom + 9);
      ctx.moveTo(px, a.top); ctx.lineTo(px, a.top - 9);
    });
    yTickLabels.forEach(v => {
      const py = Math.round(y.getPixelForValue(v));
      ctx.moveTo(a.left - 11, py); ctx.lineTo(a.left, py);
    });
    ctx.stroke();
    // annotations
    ctx.lineWidth = 1;
    [annH0, annH33].forEach(an => {
      drawArrow(ctx, x.getPixelForValue(an.from[0]), y.getPixelForValue(an.from[1]),
                x.getPixelForValue(an.to[0]), y.getPixelForValue(an.to[1]), 14, 5.5);
      ctx.font = 'italic 21px "Liberation Serif", "Times New Roman", serif';
      ctx.textBaseline = 'alphabetic'; ctx.textAlign = 'left';
      ctx.fillText(an.text, x.getPixelForValue(an.x), y.getPixelForValue(an.y));
    });
    // legend
    const lx = a.left + 30, tx = a.left + 76;
    const rows = [a.top + 726.5, a.top + 767.5, a.top + 808.5];
    ctx.font = '21px "Liberation Sans", Arial, Helvetica, sans-serif';
    ctx.textBaseline = 'alphabetic';
    legendItems.forEach((t, i) => ctx.fillText(t, tx, rows[i]));
    ctx.lineWidth = 1;
    ctx.beginPath(); ctx.arc(a.left + 46, rows[0] - 9.5, 3.6, 0, Math.PI*2); ctx.stroke();
    ctx.strokeStyle = '#0000ff'; ctx.lineWidth = 1.8;
    ctx.setLineDash([12,9]); ctx.lineDashOffset = 8;
    ctx.beginPath(); ctx.moveTo(lx, rows[1] - 10.5); ctx.lineTo(lx + 31, rows[1] - 10.5); ctx.stroke();
    ctx.setLineDash([]);
    ctx.strokeStyle = '#000'; ctx.lineWidth = 1;
    ctx.beginPath(); ctx.moveTo(lx, rows[2] - 9); ctx.lineTo(lx + 31, rows[2] - 9); ctx.stroke();
    ctx.restore();
  }
};

new Chart(document.getElementById('c'), {
  type:'scatter',
  data:{ datasets:[
    lineDs(akPg, '#000', 1, [], 1, false),
    lineDs(akPn, '#000', 1, [], 1, true),
    lineDs(akPnBack, '#000', 1, [], 1, false),
    lineDs(akPnBend, '#000', 1, [], 1, true),
    lineDs(akBranchA, '#000', 1, [], 1, true),
    lineDs(akBranchC, '#000', 1, [], 1, true),
    lineDs(jbH0, '#0000ff', 1.8, [11,10], 2, true),
    lineDs(jbH33, '#0000ff', 1.8, [11,10], 2, true),
    lineDs(jbRedDots, '#ff0000', 1.2, [1.5,5], 3, true),
    {data: obsAll, pointRadius:3.6, pointHoverRadius:3.6, borderWidth:1.2, borderColor:'#000',
     backgroundColor:'rgba(0,0,0,0)', pointStyle:'circle', order:10}
  ]},
  options:{
    responsive:false, animation:false, devicePixelRatio:1,
    layout:{autoPadding:false, padding:{top:17, left:0, right:0, bottom:0}},
    plugins:{legend:{display:false}, tooltip:{enabled:false}},
    scales:{
      x:{type:'linear', position:'bottom', min:0, max:24.95,
        afterFit(s){ s.height = 70; zeroPad(s); },
        grid:{color:'#8a8a8a', lineWidth:1, drawTicks:false},
        border:{display:false, dash:[1,2]},
        ticks:{stepSize:1, includeBounds:false, autoSkip:false, maxRotation:0, padding:17, color:'#000', font:{size:20},
          callback:(v) => { const r = Math.round(v); return (Math.abs(v - r) < 1e-6 && xTickLabels.includes(r)) ? String(r) : ''; }},
        title:{display:true, text:'Distance (degree)', color:'#000', font:{size:21}, padding:{top:0, bottom:1}}
      },
      y:{type:'linear', position:'left', min:-20, max:20,
        afterFit(s){ s.width = 91; zeroPad(s); },
        grid:{color:'#8a8a8a', lineWidth:1, drawTicks:false},
        border:{display:false, dash:[1,2]},
        ticks:{stepSize:2, autoSkip:false, padding:20, color:'#000', font:{size:20},
          callback:(v) => { const r = Math.round(v); return (Math.abs(v - r) < 1e-6 && yTickLabels.includes(r)) ? String(r) : ''; }},
        title:{display:true, text:'Travel time - X/8.0 (s)', color:'#000', font:{size:21}, padding:{top:12, bottom:0}}
      }
    }
  },
  plugins:[overlay]
});
</script>
</body>
</html>
